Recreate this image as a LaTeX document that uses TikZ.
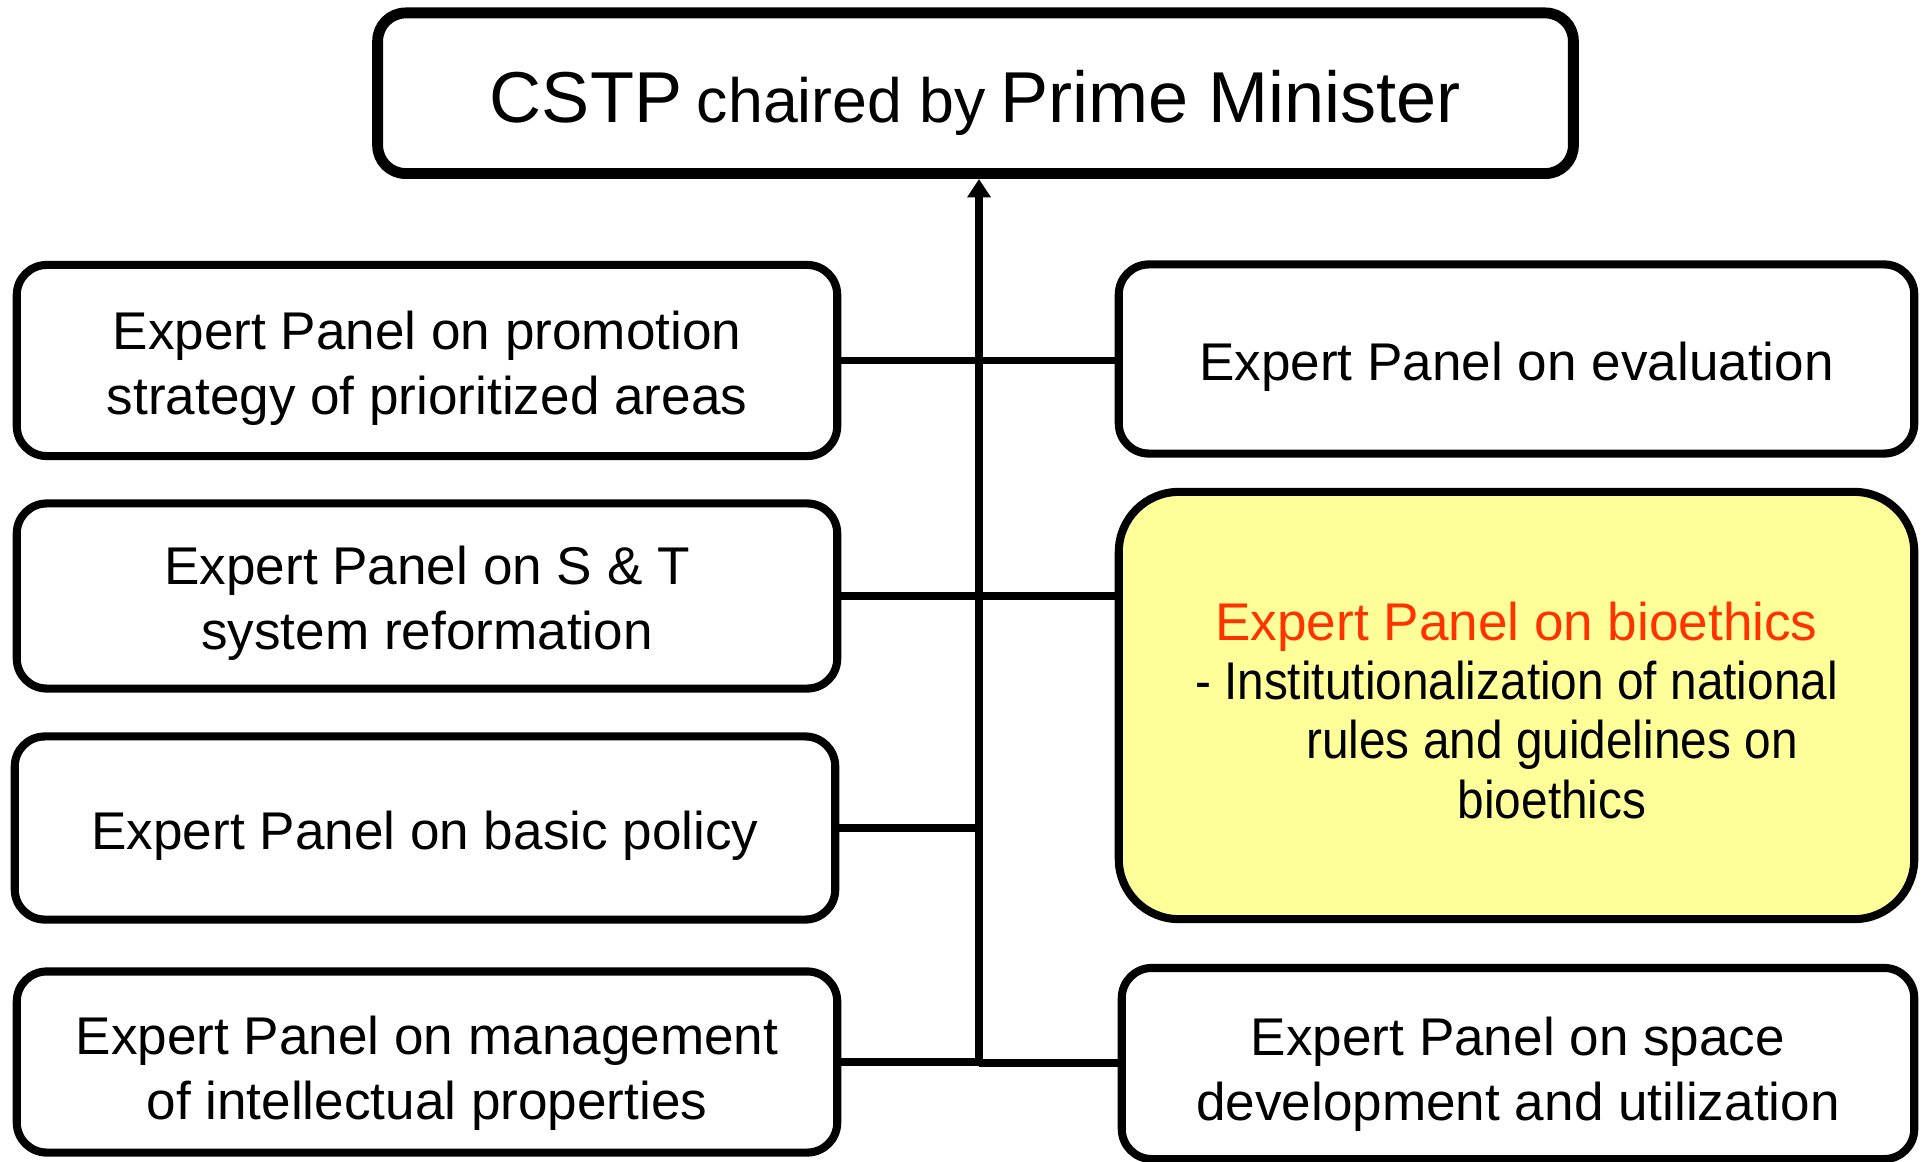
\documentclass[tikz,border=0pt]{standalone}
\usepackage{fontspec}
\setmainfont{Liberation Sans}
\newfontfamily\narrowsans[FakeStretch=0.9]{Liberation Sans}
\usetikzlibrary{arrows.meta}
\definecolor{bioRed}{HTML}{FF3300}
\definecolor{bioYellow}{HTML}{FFFF99}
\newcommand\upstrut[1][15.2pt]{\rule{0pt}{#1}}
\begin{document}
\begin{tikzpicture}[x=0.01cm,y=-0.01cm,
  panel/.style={draw=black, line width=2.3pt, rounded corners=0.3cm, align=center,
    inner sep=0pt, fill=white, font=\fontsize{15.1}{18.5}\selectfont},
  leftpanel/.style={panel, minimum width=8.2cm},
  rightpanel/.style={panel, minimum width=7.95cm},
  link/.style={line width=2.1pt}
]
\useasboundingbox (0,0) rectangle (1922,1161);

% top box
\node[panel, line width=3.1pt, rounded corners=0.28cm, minimum width=11.95cm,
      minimum height=1.605cm, text height=16.4pt, text depth=0pt] (top) at (975.5,93.25)
  {{\fontsize{20.5}{24}\selectfont CSTP} {\fontsize{17.8}{24}\selectfont chaired by} {\fontsize{20.5}{24}\selectfont Prime Minister}};

% left column
\node[leftpanel, minimum height=1.91cm] (L1) at (427,360.5)
  {\upstrut Expert Panel on promotion\\strategy of prioritized areas};
\node[leftpanel, minimum height=1.85cm] (L2) at (427,596)
  {\upstrut Expert Panel on S \& T\\system reformation};
\node[leftpanel, minimum height=1.83cm] (L3) at (425,828)
  {\upstrut Expert Panel on basic policy};
\node[leftpanel, minimum height=1.81cm] (L4) at (427,1062)
  {\upstrut[17.5pt]Expert Panel on management\\of intellectual properties};

% right column
\node[rightpanel, minimum height=1.89cm] (R1) at (1516.5,359)
  {\upstrut Expert Panel on evaluation};
\node[rightpanel, minimum height=4.27cm, fill=bioYellow, rounded corners=0.6cm,
      font=\fontsize{15.1}{16.9}\selectfont] (Y) at (1516.5,705.5)
  {\upstrut[13.6pt]\textcolor{bioRed}{Expert Panel on bioethics}\\
   {\narrowsans - Institutionalization of national}\\
   \hspace*{0.71cm}{\narrowsans rules and guidelines on}\\
   \hspace*{0.71cm}{\narrowsans bioethics}};
\node[panel, minimum width=7.92cm, minimum height=1.91cm] (R4) at (1518,1063.5)
  {\upstrut[17.3pt]Expert Panel on space\\development and utilization};

% spine
\coordinate (sp) at (979,1063);
\draw[link, -{Triangle[width=6.4pt,length=5.2pt]}] (sp) -- (sp |- top.south);

% branches
\draw[link] (L1.east) -- (L1.east -| R1.west);
\draw[link] (L2.east) -- (L2.east -| Y.west);
\draw[link] (L3.east) -- (L3.east -| sp);
\draw[link] (L4.east) -- (L4.east -| sp);
\draw[link] (sp) -- (sp -| R4.west);
\end{tikzpicture}
\end{document}
